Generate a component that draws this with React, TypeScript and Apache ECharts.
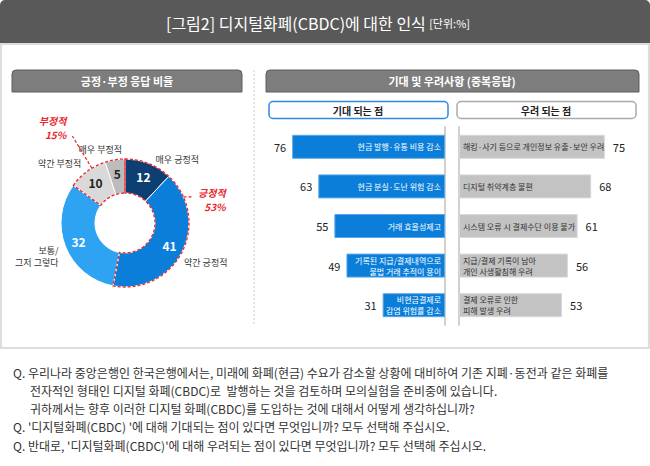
import React, { useEffect, useRef } from "react";
import * as echarts from "echarts";

const FONT = '"Noto Sans CJK KR", "Noto Sans", sans-serif';

const pieNames = ["매우 긍정적", "약간 긍정적", "보통/\n그저 그렇다", "약간 부정적", "매우 부정적"];
const pieValues = [12, 41, 32, 10, 5];
const pieColors = ["#0d3f73", "#0a7ed9", "#2ea3f2", "#d9d9d9", "#bcbcbc"];
const pieValueColors = ["#ffffff", "#ffffff", "#ffffff", "#222222", "#222222"];

const groupNames = ["긍정적", "보통", "부정적"];
const groupValues = [53, 32, 15];

const expectNames = [
  "현금 발행·유통 비용 감소",
  "현금 분실·도난 위험 감소",
  "거래 효율성제고",
  "기록된 지급/결제내역으로\n불법 거래 추적이 용이",
  "비현금결제로\n감염 위험률 감소",
];
const expectValues = [76, 63, 55, 49, 31];

const concernNames = [
  "해킹·사기 등으로 개인정보 유출·보안 우려",
  "디지털 취약계층 불편",
  "시스템 오류 시 결제수단 이용 불가",
  "지급/결제 기록이 남아\n개인 사생활침해 우려",
  "결제 오류로 인한\n피해 발생 우려",
];
const concernValues = [75, 68, 61, 56, 53];

const questionLines = [
  "Q. 우리나라 중앙은행인 한국은행에서는, 미래에 화폐(현금) 수요가 감소할 상황에 대비하여 기존 지폐·동전과 같은 화폐를",
  "전자적인 형태인 디지털 화폐(CBDC)로  발행하는 것을 검토하며 모의실험을 준비중에 있습니다.",
  "귀하께서는 향후 이러한 디지털 화폐(CBDC)를 도입하는 것에 대해서 어떻게 생각하십니까?",
  "Q. '디지털화폐(CBDC) '에 대해 기대되는 점이 있다면 무엇입니까? 모두 선택해 주십시오.",
  "Q. 반대로, '디지털화폐(CBDC)'에 대해 우려되는 점이 있다면 무엇입니까? 모두 선택해 주십시오.",
];

const nameShift = [
  [2, -4],
  [-3, 10],
  [-2, 10],
  [-1, -8],
  [12, -10],
];

export default function App() {
  const ref = useRef<HTMLDivElement>(null);
  useEffect(() => {
    if (!ref.current) return;
    const chart = echarts.init(ref.current, null, { renderer: "svg" });
    const red = "#e8262c";
    const cx = 125;
    const cy = 223;
    const R = 64;
    const center = [cx, cy];
    const radius = [30, R];

    const graphic: any[] = [
      { type: "rect", shape: { x: 0, y: 0, width: 650, height: 44, r: [5, 5, 0, 0] }, style: { fill: "#595959" }, z: 1 },
      { type: "rect", shape: { x: 1, y: 44, width: 648, height: 304 }, style: { fill: "none", stroke: "#dddddd", lineWidth: 2 }, z: 1 },
      {
        type: "text",
        x: 318,
        y: 23,
        style: {
          text: "{a|[그림2] 디지털화폐(CBDC)에 대한 인식} {b|[단위:%]}",
          align: "center",
          verticalAlign: "middle",
          rich: {
            a: { fontSize: 16, fill: "#ffffff", fontFamily: FONT },
            b: { fontSize: 11, fill: "#ffffff", fontFamily: FONT },
          },
        },
        z: 2,
      },
      { type: "rect", shape: { x: 12, y: 70, width: 230, height: 22, r: [4, 4, 0, 0] }, style: { fill: "#7d7d7d", stroke: "#5e5e5e", lineWidth: 1 }, z: 1 },
      { type: "text", x: 127, y: 81, style: { text: "긍정·부정 응답 비율", align: "center", verticalAlign: "middle", fill: "#fff", fontSize: 11, fontWeight: "bold", fontFamily: FONT }, z: 2 },
      { type: "rect", shape: { x: 266, y: 70, width: 373, height: 22, r: [4, 4, 0, 0] }, style: { fill: "#7d7d7d", stroke: "#5e5e5e", lineWidth: 1 }, z: 1 },
      { type: "text", x: 452, y: 81, style: { text: "기대 및 우려사항 (중복응답)", align: "center", verticalAlign: "middle", fill: "#fff", fontSize: 11, fontWeight: "bold", fontFamily: FONT }, z: 2 },
      { type: "line", shape: { x1: 254, y1: 70, x2: 254, y2: 325 }, style: { stroke: "#cccccc", lineWidth: 1, lineDash: [2, 2] }, z: 1 },
      { type: "rect", shape: { x: 269, y: 101.5, width: 179, height: 17, r: 4 }, style: { fill: "#fff", stroke: "#2b8be3", lineWidth: 1.5 }, z: 1 },
      { type: "text", x: 358, y: 110, style: { text: "기대 되는 점", align: "center", verticalAlign: "middle", fill: "#222", fontSize: 10, fontWeight: "bold", fontFamily: FONT }, z: 2 },
      { type: "rect", shape: { x: 457, y: 101.5, width: 179, height: 17, r: 4 }, style: { fill: "#fff", stroke: "#aaaaaa", lineWidth: 1.5 }, z: 1 },
      { type: "text", x: 546, y: 110, style: { text: "우려 되는 점", align: "center", verticalAlign: "middle", fill: "#222", fontSize: 10, fontWeight: "bold", fontFamily: FONT }, z: 2 },
    ];
    questionLines.forEach((t, i) => {
      graphic.push({
        type: "text",
        x: i === 1 || i === 2 ? 30 : 13,
        y: 372 + i * 18.3,
        style: { text: t, align: "left", verticalAlign: "middle", fill: "#333", fontSize: 12, fontFamily: FONT },
        z: 2,
      });
    });

    const groupLayout = (p: any) => {
      const lr = p.labelRect;
      if (p.dataIndex === 0) {
        const dx = 22;
        const dy = -30;
        const right = lr.x + dx;
        const left = right - lr.width;
        const midY = lr.y + dy + lr.height / 2;
        const y = midY - 3;
        const sx = cx + Math.sqrt(Math.max(0, R * R - (y - cy) * (y - cy)));
        const ex = left - 5;
        return {
          dx,
          dy,
          align: "right",
          labelLinePoints: [
            [sx, y],
            [(sx + ex) / 2, y],
            [ex, y],
          ],
        };
      }
      if (p.dataIndex === 2) {
        const dx = -20;
        const dy = -30;
        const right = lr.x + lr.width + dx;
        const midY = lr.y + dy + lr.height / 2;
        const ex = right + 6;
        const ey = midY + 9;
        const vx = ex - cx;
        const vy = ey - cy;
        const len = Math.sqrt(vx * vx + vy * vy);
        const sx = cx + (vx / len) * R;
        const sy = cy + (vy / len) * R;
        return {
          dx,
          dy,
          align: "right",
          labelLinePoints: [
            [sx, sy],
            [(sx + ex) / 2, (sy + ey) / 2],
            [ex, ey],
          ],
        };
      }
      return {};
    };

    const option: any = {
      animation: false,
      textStyle: { fontFamily: FONT },
      graphic,
      grid: [
        { left: 264, right: 205, top: 127, bottom: 141 },
        { left: 459, right: 16, top: 127, bottom: 141 },
      ],
      xAxis: [
        { type: "value", gridIndex: 0, inverse: true, min: 0, max: 90, show: false },
        { type: "value", gridIndex: 1, min: 0, max: 90, show: false },
      ],
      yAxis: [
        {
          type: "category",
          gridIndex: 0,
          inverse: true,
          position: "right",
          data: expectNames,
          axisLine: { show: true, lineStyle: { color: "#d0d0d0", width: 2 } },
          axisTick: { show: false },
          axisLabel: { show: false },
        },
        {
          type: "category",
          gridIndex: 1,
          inverse: true,
          position: "left",
          data: concernNames,
          axisLine: { show: true, lineStyle: { color: "#d0d0d0", width: 2 } },
          axisTick: { show: false },
          axisLabel: { show: false },
        },
      ],
      series: [
        {
          type: "pie",
          center,
          radius,
          startAngle: 90,
          clockwise: true,
          avoidLabelOverlap: false,
          silent: true,
          data: pieValues.map((v, i) => ({
            name: pieNames[i],
            value: v,
            itemStyle: { color: pieColors[i] },
            label: { color: pieValueColors[i] },
          })),
          itemStyle: { borderColor: "#ffffff", borderWidth: 1 },
          label: { show: true, position: "inside", formatter: "{c}", fontSize: 12, fontWeight: "bold", fontFamily: FONT },
          labelLine: { show: false },
          z: 2,
        },
        {
          type: "pie",
          center,
          radius,
          startAngle: 90,
          clockwise: true,
          avoidLabelOverlap: false,
          silent: true,
          data: pieValues.map((v, i) => ({ name: pieNames[i], value: v })),
          itemStyle: { color: "rgba(0,0,0,0)", borderWidth: 0 },
          label: { show: true, position: "outside", formatter: "{b}", fontSize: 9, color: "#333", lineHeight: 12, fontFamily: FONT, distanceToLabelLine: 5 },
          labelLine: { show: false, length: 0, length2: 0 },
          labelLayout: (p: any) => ({ dx: nameShift[p.dataIndex][0], dy: nameShift[p.dataIndex][1] }),
          z: 3,
        },
        {
          type: "pie",
          center,
          radius,
          startAngle: 90,
          clockwise: true,
          avoidLabelOverlap: false,
          silent: true,
          data: groupValues.map((v, i) => ({
            name: groupNames[i],
            value: v,
            itemStyle: i === 1 ? { borderWidth: 0 } : { borderWidth: 1.3, borderColor: red, borderType: [3, 2] },
            label: { show: i !== 1 },
            labelLine: { show: i !== 1 },
          })),
          itemStyle: { color: "rgba(0,0,0,0)" },
          label: {
            position: "outside",
            formatter: "{b}\n{c}%",
            color: red,
            fontSize: 10,
            fontWeight: "bold",
            fontStyle: "italic",
            lineHeight: 14,
            fontFamily: FONT,
          },
          labelLine: { show: true, length: 10, length2: 0, lineStyle: { color: red, width: 1.2, type: [3, 2] } },
          labelLayout: groupLayout,
          z: 4,
        },
        {
          type: "bar",
          xAxisIndex: 0,
          yAxisIndex: 0,
          data: expectValues,
          barWidth: 24,
          itemStyle: { color: "#0a7ed9", borderColor: "#5aa8ea", borderWidth: 1 },
          label: { show: true, position: "insideRight", distance: 4, formatter: "{b}", color: "#fff", fontSize: 8, lineHeight: 11, align: "right", fontFamily: FONT },
          silent: true,
        },
        {
          type: "bar",
          xAxisIndex: 0,
          yAxisIndex: 0,
          data: expectValues,
          barWidth: 24,
          barGap: "-100%",
          itemStyle: { color: "rgba(0,0,0,0)" },
          label: { show: true, position: "left", distance: 6, formatter: "{c}", color: "#222", fontSize: 11, fontFamily: FONT },
          silent: true,
        },
        {
          type: "bar",
          xAxisIndex: 1,
          yAxisIndex: 1,
          data: concernValues,
          barWidth: 24,
          itemStyle: { color: "#c3c3c3", borderColor: "#d8d8d8", borderWidth: 1 },
          label: { show: true, position: "insideLeft", distance: 4, formatter: "{b}", color: "#333", fontSize: 8, lineHeight: 11, align: "left", fontFamily: FONT },
          silent: true,
        },
        {
          type: "bar",
          xAxisIndex: 1,
          yAxisIndex: 1,
          data: concernValues,
          barWidth: 24,
          barGap: "-100%",
          itemStyle: { color: "rgba(0,0,0,0)" },
          label: { show: true, position: "right", distance: 8, formatter: "{c}", color: "#222", fontSize: 11, fontFamily: FONT },
          silent: true,
        },
      ],
    };
    chart.setOption(option);
    return () => chart.dispose();
  }, []);
  return (
    <div
      ref={ref}
      style={{ position: "fixed", left: 0, top: 0, width: 650, height: 466, background: "#ffffff" }}
    />
  );
}
